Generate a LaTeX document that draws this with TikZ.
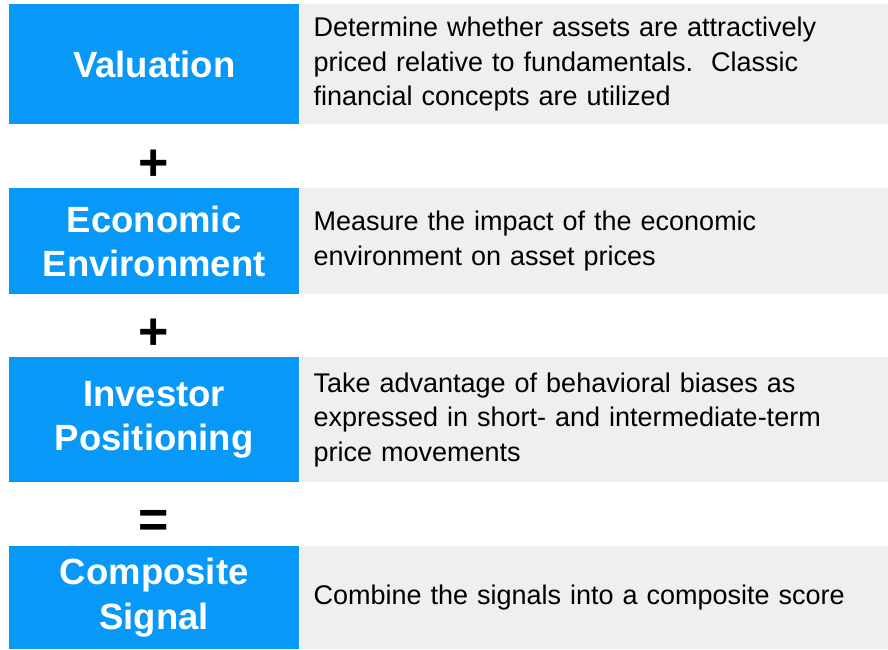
\documentclass[tikz,border=0pt]{standalone}
\usepackage{fontspec}
\setmainfont{Liberation Sans}
\usetikzlibrary{positioning}
\definecolor{sigblue}{RGB}{8,152,248}
\definecolor{sigrey}{RGB}{239,239,239}
\frenchspacing

\begin{document}
\begin{tikzpicture}[x=1pt, y=-1pt,
    factor/.style={fill=sigblue, text=white,
        font=\fontsize{36.5}{44.5}\selectfont\bfseries,
        align=center, minimum width=290pt, inner sep=0pt,
        anchor=north west},
    note/.style={fill=sigrey,
        font=\fontsize{27}{34.5}\selectfont,
        align=left, text width=561pt,
        inner xsep=14pt, inner ysep=0pt},
    sign/.style={font=\fontsize{52}{52}\selectfont\bfseries, inner sep=0pt}]
    \useasboundingbox (0,0) rectangle (888,649);

    \node [factor, minimum height=120pt] (val) at (9,4) {Valuation};
    \node [note, minimum height=120pt, right=0pt of val] (valtxt) {
        Determine whether assets are attractively\\
        priced relative to fundamentals.~ Classic\\
        financial concepts are utilized
    };

    \node [sign] (plus1) at (154,165) {+};

    \node [factor, minimum height=106pt] (econ) at (9,188) {Economic\\Environment};
    \node [note, minimum height=106pt, right=0pt of econ] (econtxt) {
        Measure the impact of the economic\\
        environment on asset prices
    };

    \node [sign] (plus2) at (154,334) {+};

    \node [factor, minimum height=125pt] (inv) at (9,357) {Investor\\Positioning};
    \node [note, minimum height=125pt, right=0pt of inv] (invtxt) {
        Take advantage of behavioral biases as\\
        expressed in short- and intermediate-term\\
        price movements
    };

    \node [sign] (equals) at (154,524) {=};

    \node [factor, minimum height=103pt] (comp) at (9,546) {Composite\\Signal};
    \node [note, minimum height=103pt, right=0pt of comp] (comptxt) {
        Combine the signals into a composite score
    };
\end{tikzpicture}
\end{document}
